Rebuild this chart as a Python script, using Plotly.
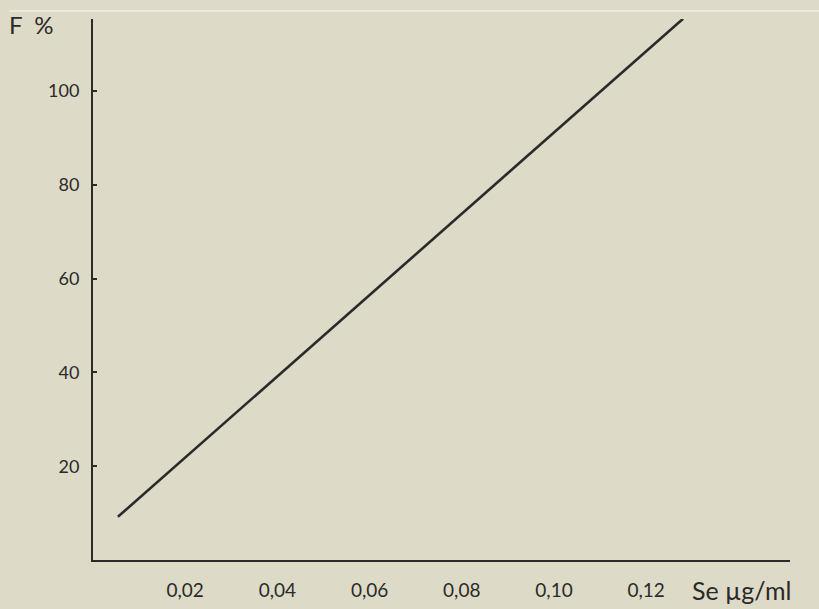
import plotly.graph_objects as go

# Data
conc = [0.0054, 0.128]          # Se µg/ml
fluor = [9.2, 115.4]            # F %
x_tickvals = [0.02, 0.04, 0.06, 0.08, 0.10, 0.12]
x_ticktext = ["0,02", "0,04", "0,06", "0,08", "0,10", "0,12"]
y_tickvals = [20, 40, 60, 80, 100]
y_ticktext = ["20", "40", "60", "80", "100"]

bg = "#dedac8"
ink = "#2b2a28"
font_family = "Lato, 'DejaVu Sans', sans-serif"

fig = go.Figure()
fig.add_trace(go.Scatter(x=conc, y=fluor, mode="lines",
                         line=dict(color=ink, width=2.6), showlegend=False,
                         hoverinfo="skip"))

fig.update_layout(
    width=819, height=609,
    margin=dict(l=93, r=29, t=19, b=49, autoexpand=False),
    paper_bgcolor=bg, plot_bgcolor=bg,
    font=dict(family=font_family, color=ink, size=18),
    xaxis=dict(range=[0, 0.1512], showgrid=False, zeroline=False,
               automargin=False,
               showline=True, linecolor=ink, linewidth=2,
               tickvals=x_tickvals, ticktext=x_ticktext, ticks="",
               ticklabelstandoff=12, tickfont=dict(size=19)),
    yaxis=dict(range=[0, 115.35], showgrid=False, zeroline=False,
               automargin=False,
               showline=True, linecolor=ink, linewidth=2,
               tickvals=y_tickvals, ticktext=y_ticktext, ticks="inside",
               ticklen=4, tickwidth=1.5, tickcolor=ink,
               ticklabelstandoff=8, tickfont=dict(size=18)),
    annotations=[
        dict(text="F\u00a0\u00a0%", xref="paper", yref="paper",
             x=(7 - 93) / 697, y=(560 - 24) / 541,
             xanchor="left", yanchor="middle", showarrow=False,
             font=dict(size=24, color=ink, family=font_family)),
        dict(text="Se µg/ml", xref="paper", yref="paper",
             x=(690 - 93) / 697, y=-(590 - 560) / 541,
             xanchor="left", yanchor="middle", showarrow=False,
             font=dict(size=25, color=ink, family=font_family)),
    ],
    shapes=[
        dict(type="line", xref="paper", yref="paper",
             x0=(9 - 93) / 697, x1=(819 - 93) / 697,
             y0=(560 - 11) / 541, y1=(560 - 11) / 541,
             line=dict(color="rgba(255,255,255,0.85)", width=1)),
    ],
)

fig.write_html("out.html",
               config={"displayModeBar": False},
               post_script="document.body.style.margin='0';"
                           "document.body.style.background='%s';" % bg)
